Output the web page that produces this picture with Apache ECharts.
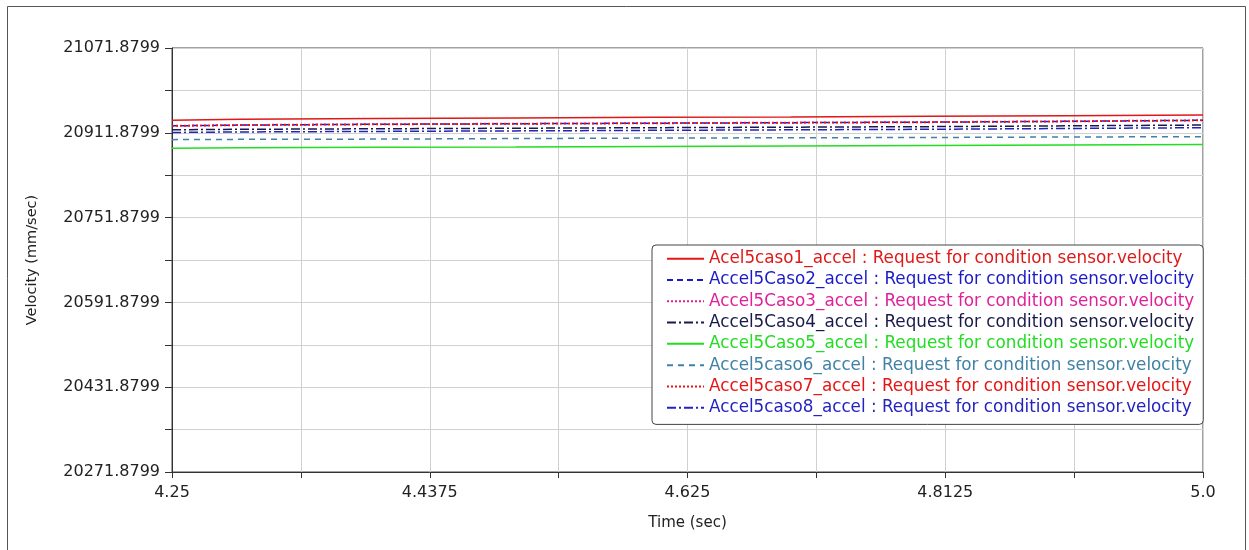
<!DOCTYPE html>
<html>
<head>
<meta charset="utf-8">
<script src="https://cdn.jsdelivr.net/npm/echarts@6/dist/echarts.min.js"></script>
<style>html,body{margin:0;padding:0;background:#fff}#c{width:1249px;height:550px}</style>
</head>
<body>
<div id="c"></div>
<script>
// ---- data ----
const times = [4.25, 4.30, 4.40, 4.50, 4.60, 4.70, 4.80, 4.90, 5.0];
const seriesNames = [
  'Acel5caso1_accel : Request for condition sensor.velocity',
  'Accel5Caso2_accel : Request for condition sensor.velocity',
  'Accel5Caso3_accel : Request for condition sensor.velocity',
  'Accel5Caso4_accel : Request for condition sensor.velocity',
  'Accel5Caso5_accel : Request for condition sensor.velocity',
  'Accel5caso6_accel : Request for condition sensor.velocity',
  'Accel5caso7_accel : Request for condition sensor.velocity',
  'Accel5caso8_accel : Request for condition sensor.velocity'
];
const caso1 = [20935.5, 20937.5, 20939.0, 20940.0, 20941.0, 20941.5, 20943.0, 20944.0, 20945.5];
const caso2 = [20925.0, 20926.5, 20928.0, 20929.0, 20930.0, 20931.0, 20932.0, 20933.5, 20935.5];
const caso3 = [20925.5, 20927.0, 20928.5, 20929.5, 20930.5, 20931.5, 20932.5, 20934.0, 20936.0];
const caso4 = [20917.5, 20918.5, 20919.5, 20920.5, 20921.5, 20922.5, 20923.5, 20925.0, 20926.5];
const caso5 = [20882.5, 20883.5, 20884.5, 20885.0, 20886.0, 20887.0, 20888.0, 20889.0, 20890.0];
const caso6 = [20899.0, 20899.5, 20900.0, 20901.0, 20902.0, 20902.5, 20903.0, 20904.0, 20904.5];
const caso7 = [20924.5, 20926.0, 20927.5, 20928.5, 20929.5, 20930.5, 20931.5, 20933.0, 20935.0];
const caso8 = [20912.5, 20913.5, 20914.5, 20915.5, 20916.5, 20917.5, 20918.5, 20920.0, 20921.5];
const yMin = 20271.8799, yMax = 21071.8799;
const xMin = 4.25, xMax = 5.0;

// ---- styles ----
const allValues = [caso1, caso2, caso3, caso4, caso5, caso6, caso7, caso8];
const colors = ['#e01818', '#1a1ac8', '#e0209a', '#1a1a4a', '#22dd22', '#3f82a6', '#e81414', '#2323c0'];
const dashes = ['solid', [6, 4], [2, 2], [9, 3, 2, 3], 'solid', [6, 5], [2, 2], [9, 3, 2, 3]];

const series = allValues.map((vals, i) => ({
  name: seriesNames[i],
  type: 'line',
  symbol: 'none',
  animation: false,
  data: vals.map((v, j) => [times[j] - xMin, v - yMin]),
  lineStyle: { color: colors[i], width: 1.5, type: dashes[i] },
  itemStyle: { color: colors[i] }
}));

const chart = echarts.init(document.getElementById('c'));
const font = 'DejaVu Sans, Liberation Sans, sans-serif';
chart.setOption({
  animation: false,
  textStyle: { fontFamily: font },
  graphic: [{
    type: 'rect', shape: { x: 7.5, y: 6.5, width: 1238, height: 560 },
    style: { fill: 'none', stroke: '#555', lineWidth: 1 }, silent: true, z: -1
  }],
  grid: { left: 172, right: 46, top: 48, bottom: 78, show: true, borderColor: '#444', borderWidth: 1 },
  xAxis: {
    type: 'value', min: 0, max: xMax - xMin, interval: 0.09375,
    name: 'Time (sec)', nameLocation: 'middle', nameGap: 44,
    nameTextStyle: { fontSize: 15, color: '#222', fontFamily: font },
    axisLine: { lineStyle: { color: '#333' } },
    axisTick: { show: true, length: 6, lineStyle: { color: '#333' } },
    axisLabel: {
      fontSize: 16, color: '#222', margin: 13, fontFamily: font,
      formatter: v => {
        const k = Math.round(v / 0.09375);
        if (k % 2) return '';
        const t = xMin + v;
        return Number.isInteger(t) ? t.toFixed(1) : String(t);
      }
    },
    splitLine: { show: true, lineStyle: { color: '#d0d0d0' } }
  },
  yAxis: {
    type: 'value', min: 0, max: yMax - yMin, interval: 80,
    name: 'Velocity (mm/sec)', nameLocation: 'middle', nameGap: 132,
    nameTextStyle: { fontSize: 14.5, color: '#222', fontFamily: font },
    axisLine: { show: true, lineStyle: { color: '#333' } },
    axisTick: { show: true, length: 7, lineStyle: { color: '#333' } },
    axisLabel: {
      fontSize: 16, color: '#222', margin: 12, fontFamily: font,
      formatter: v => {
        const k = Math.round(v / 80);
        if (k % 2) return '';
        return (yMin + v).toFixed(4);
      }
    },
    splitLine: { show: true, lineStyle: { color: '#d0d0d0' } }
  },
  legend: {
    orient: 'vertical', left: 652, top: 245,
    backgroundColor: '#fff', borderColor: '#444', borderWidth: 1, borderRadius: 4,
    padding: [3, 9, 6, 14],
    itemWidth: 37, itemHeight: 14, itemGap: 0,
    itemStyle: { opacity: 0 },
    textStyle: { fontSize: 16.8, fontFamily: font, lineHeight: 21.3 },
    data: seriesNames.map((n, i) => ({ name: n, textStyle: { color: colors[i] } }))
  },
  series: series
});
</script>
</body>
</html>
